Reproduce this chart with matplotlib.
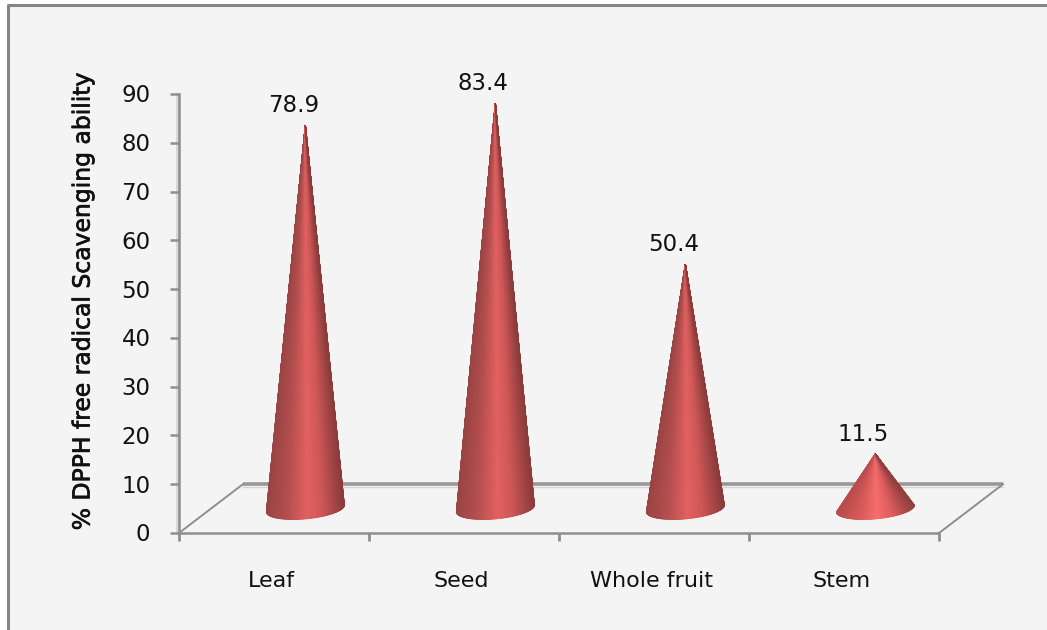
import numpy as np
import matplotlib
matplotlib.use("Agg")
import matplotlib.pyplot as plt
import matplotlib.patheffects as pe
from matplotlib.colors import LinearSegmentedColormap

categories = ["Leaf", "Seed", "Whole fruit", "Stem"]
scavenging = [78.9, 83.4, 50.4, 11.5]
y_ticks = [0, 10, 20, 30, 40, 50, 60, 70, 80, 90]

W, H = 1047, 630
BG = "#f4f4f4"
AXIS = "#8e8e8e"
INK = "#111111"
DEPTH_X = 64 / 190.25   # floor depth in category units
DEPTH_Y = 10.0          # floor depth in value units
CONE_DX = 0.165         # cone centre shift into the floor
CONE_APEX = 4.7         # height of a zero-valued apex above the front edge
CONE_BASE = 5.0         # centre of the base ellipse above the front edge
CONE_RX = 0.205         # base half-width
CONE_RY = 2.1           # base half-height
CONE_TILT = 0.7         # rise of the base ellipse across its half-width

fig = plt.figure(figsize=(W / 100, H / 100), dpi=100, facecolor="white")

# Chart-area panel with its grey top and left rules
panel = fig.add_axes([0, 0, 1, 1])
panel.set_xlim(0, W)
panel.set_ylim(H, 0)
panel.axis("off")
panel.fill_between([7.5, W], 5, H, color=BG, lw=0)
panel.plot([7.5, 7.5, W], [H, 5, 5], color="#858585", lw=2.2, solid_capstyle="butt")

left, right, bottom, top = 179, 1003, 533, 94
ax = fig.add_axes([left / W, 1 - bottom / H, (right - left) / W, (bottom - top) / H])
ax.set_xlim(-0.5, 3.5 + DEPTH_X)
ax.set_ylim(0, 90)
ax.patch.set_alpha(0)
for s in ax.spines.values():
    s.set_visible(False)
ax.tick_params(left=False, bottom=False, labelleft=False, labelbottom=False)

# Floor of the 3-D plot and the axis lines
x0, x1 = -0.5, 3.5
ax.plot([x0, x1], [0, 0], color=AXIS, lw=1.8, clip_on=False, solid_capstyle="butt")
ax.plot([x0 + DEPTH_X, x1 + DEPTH_X], [DEPTH_Y, DEPTH_Y], color="#979797", lw=2.6,
        clip_on=False, solid_capstyle="butt", zorder=1)
ax.plot([x0 + DEPTH_X, x1 + DEPTH_X], [DEPTH_Y - 0.5, DEPTH_Y - 0.5], color="#d4d4d4", lw=1,
        clip_on=False, zorder=0.9)
ax.plot([x0, x0 + DEPTH_X], [0, DEPTH_Y], color=AXIS, lw=1.4, clip_on=False)
ax.plot([x1, x1 + DEPTH_X], [0, DEPTH_Y], color=AXIS, lw=1.4, clip_on=False)
ax.plot([x0 - 0.009, x0 - 0.009], [0, 90], color="#d6d6d6", lw=2, clip_on=False, zorder=0.8)
ax.plot([x0, x0], [0, 90], color=AXIS, lw=1.8, clip_on=False, solid_capstyle="projecting")

# Tick marks and tick labels
for v in y_ticks:
    ax.plot([x0 - 0.047, x0], [v, v], color=AXIS, lw=1.8, clip_on=False, solid_capstyle="butt")
    ax.text(x0 - 0.15, v - 0.4, str(v), ha="right", va="center", fontsize=16.5, color=INK,
            clip_on=False)
for i in range(len(categories) + 1):
    ax.plot([x0 + i, x0 + i], [0, -1.7], color=AXIS, lw=2, clip_on=False, solid_capstyle="butt")
for i, name in enumerate(categories):
    ax.text(i - 0.013, -9.8, name, ha="center", va="center", fontsize=16, color=INK,
            clip_on=False)

ax.text(-0.5 - 0.505, 47.5, "% DPPH free radical Scavenging ability", rotation=90, ha="center",
        va="center", fontsize=16.9, color=INK, clip_on=False,
        path_effects=[pe.withStroke(linewidth=0.5, foreground=INK)])

# Cones shaded across the visible half of the surface
shade = LinearSegmentedColormap.from_list(
    "cone", [(0.0, "#9a4444"), (0.25, "#b34e4e"), (0.53, "#e36161"), (0.72, "#cf5757"), (1.0, "#8c3b3b")]
)
shade_small = LinearSegmentedColormap.from_list(
    "cone_small", [(0.0, "#b84c4c"), (0.28, "#d95a5a"), (0.52, "#f86e6e"), (0.72, "#e05e5e"), (1.0, "#923f3f")]
)
theta = np.linspace(np.pi, 2 * np.pi, 121)
t = np.linspace(0, 1, 40)[:, None]
for i, value in enumerate(scavenging):
    cx = i + CONE_DX
    base_x = cx + CONE_RX * np.cos(theta)
    base_y = CONE_BASE + CONE_RY * np.sin(theta) + CONE_TILT * np.cos(theta)
    X = base_x * (1 - t) + cx * t
    Y = base_y * (1 - t) + (CONE_APEX + value) * t
    # Shading follows the horizontal position on the base circle
    C = np.tile((np.cos(theta) + 1) / 2, (len(t), 1))
    ax.pcolormesh(X, Y, C, cmap=shade_small if value < 20 else shade, vmin=0, vmax=1,
                  shading="gouraud", zorder=3, clip_on=False)
    ax.text(cx - 0.063, CONE_APEX + value + 1.6, f"{value:.1f}", ha="center", va="bottom",
            fontsize=16.5, color=INK, zorder=4, clip_on=False)

fig.savefig("out.png", dpi=100, facecolor="white")
